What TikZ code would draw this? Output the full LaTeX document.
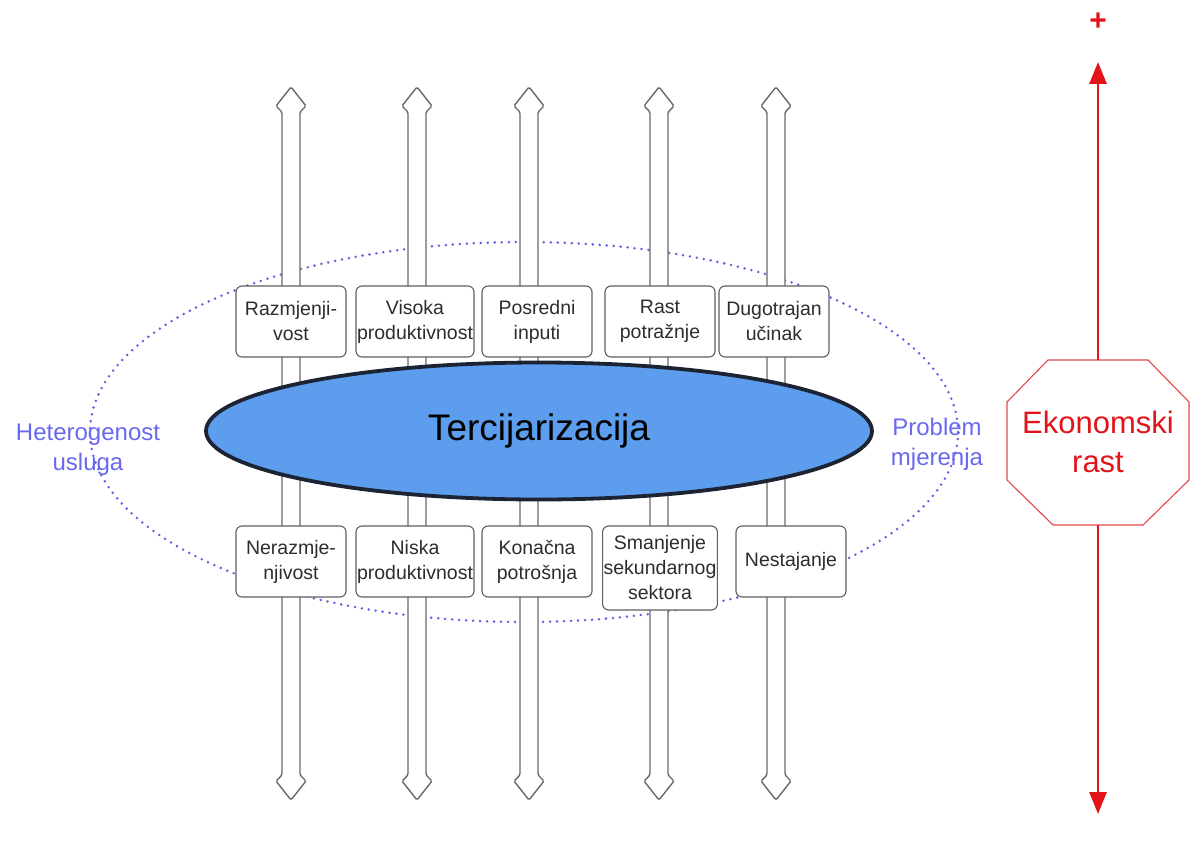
\documentclass[tikz,border=0pt]{standalone}
\usepackage{fontspec}
\setmainfont{Liberation Sans}
\usetikzlibrary{arrows.meta,shapes.geometric}
\definecolor{arrowgray}{RGB}{105,105,105}
\definecolor{boxgray}{RGB}{95,95,95}
\definecolor{boxtext}{RGB}{45,45,45}
\definecolor{ellblue}{RGB}{92,157,238}
\definecolor{elldark}{RGB}{28,36,52}
\definecolor{dotblue}{RGB}{96,96,228}
\definecolor{labblue}{RGB}{104,104,240}
\definecolor{axisred}{RGB}{226,20,26}
\definecolor{octred}{RGB}{226,70,75}
\tikzset{
  fatarrow/.style={draw=arrowgray, fill=white, line width=1.4pt, rounded corners=1.5pt},
  factbox/.style={draw=boxgray, fill=white, line width=1.1pt, rounded corners=6pt, text=boxtext,
    minimum width=110pt, minimum height=71pt, align=center, font=\fontsize{19.5}{25}\selectfont, inner sep=1pt},
  sidelabel/.style={text=labblue, align=center, font=\fontsize{24}{30}\selectfont},
  redaxis/.style={draw=axisred, line width=2.8pt, -{Triangle[length=22pt,width=17pt]}},
}
\newcommand{\fatdbl}[1]{%
  \draw[fatarrow] (#1-9,112) -- (#1-15,106) -- (#1,87) -- (#1+15,106) -- (#1+9,112)
    -- (#1+9,775) -- (#1+15,781) -- (#1,800) -- (#1-15,781) -- (#1-9,775) -- cycle;}
\begin{document}
\begin{tikzpicture}[x=1pt,y=-1pt]
\useasboundingbox (0,0) rectangle (1190,848);
% dotted measurement ellipse
\draw[dotblue, line width=2.8pt, line cap=round, dash pattern=on 0pt off 7pt]
  (524,432) ellipse [x radius=434, y radius=190];
% vertical double arrows
\foreach \xx in {291,417,529,659,776} {\fatdbl{\xx}}
% upper boxes
\node[factbox] (u1) at (291,321.5) {Razmjenji-\\vost};
\node[factbox] (u2) at (415,321.5) {Visoka\\produktivnost};
\node[factbox] (u3) at (537,321.5) {Posredni\\inputi};
\node[factbox] (u4) at (660,321.5) {Rast\\potražnje};
\node[factbox] (u5) at (774,321.5) {Dugotrajan\\učinak};
% lower boxes
\node[factbox] (l1) at (291,561.5) {Nerazmje-\\njivost};
\node[factbox] (l2) at (415,561.5) {Niska\\produktivnost};
\node[factbox] (l3) at (537,561.5) {Konačna\\potrošnja};
\node[factbox, minimum height=84pt] (l4) at (660,568) {Smanjenje\\sekundarnog\\sektora};
\node[factbox] (l5) at (791,561.5) {Nestajanje};
% central ellipse
\node[ellipse, draw=elldark, fill=ellblue, line width=3.8pt, minimum width=666pt, minimum height=137pt,
  font=\fontsize{37}{44}\selectfont] (terc) at (539,431) {Tercijarizacija};
% side labels
\node[sidelabel] (het) at (88,450) {Heterogenost\\usluga};
\node[sidelabel] (prob) at (937,444) {Problem\\mjerenja};
% economic growth axis
\node[text=axisred, align=center, font=\fontsize{31}{39}\selectfont] (eko) at (1098,442) {Ekonomski\\rast};
\draw[octred, line width=1.1pt] (1048,360) -- (1148,360) -- (1189,402) -- (1189,480) -- (1143,525)
  -- (1053,525) -- (1007,480) -- (1007,402) -- cycle;
\coordinate (octtop) at (1098,360);
\coordinate (octbot) at (1098,525);
\coordinate (toptip) at (1098,62);
\coordinate (bottip) at (1098,814);
\draw[redaxis] (octtop) -- (toptip);
\draw[redaxis] (octbot) -- (bottip);
\node[text=axisred, font=\fontsize{30}{30}\selectfont\bfseries] (plus) at (1098,22) {+};
\node[text=axisred, font=\fontsize{30}{30}\selectfont\bfseries] (minus) at (1098,858) {−};
\end{tikzpicture}
\end{document}
